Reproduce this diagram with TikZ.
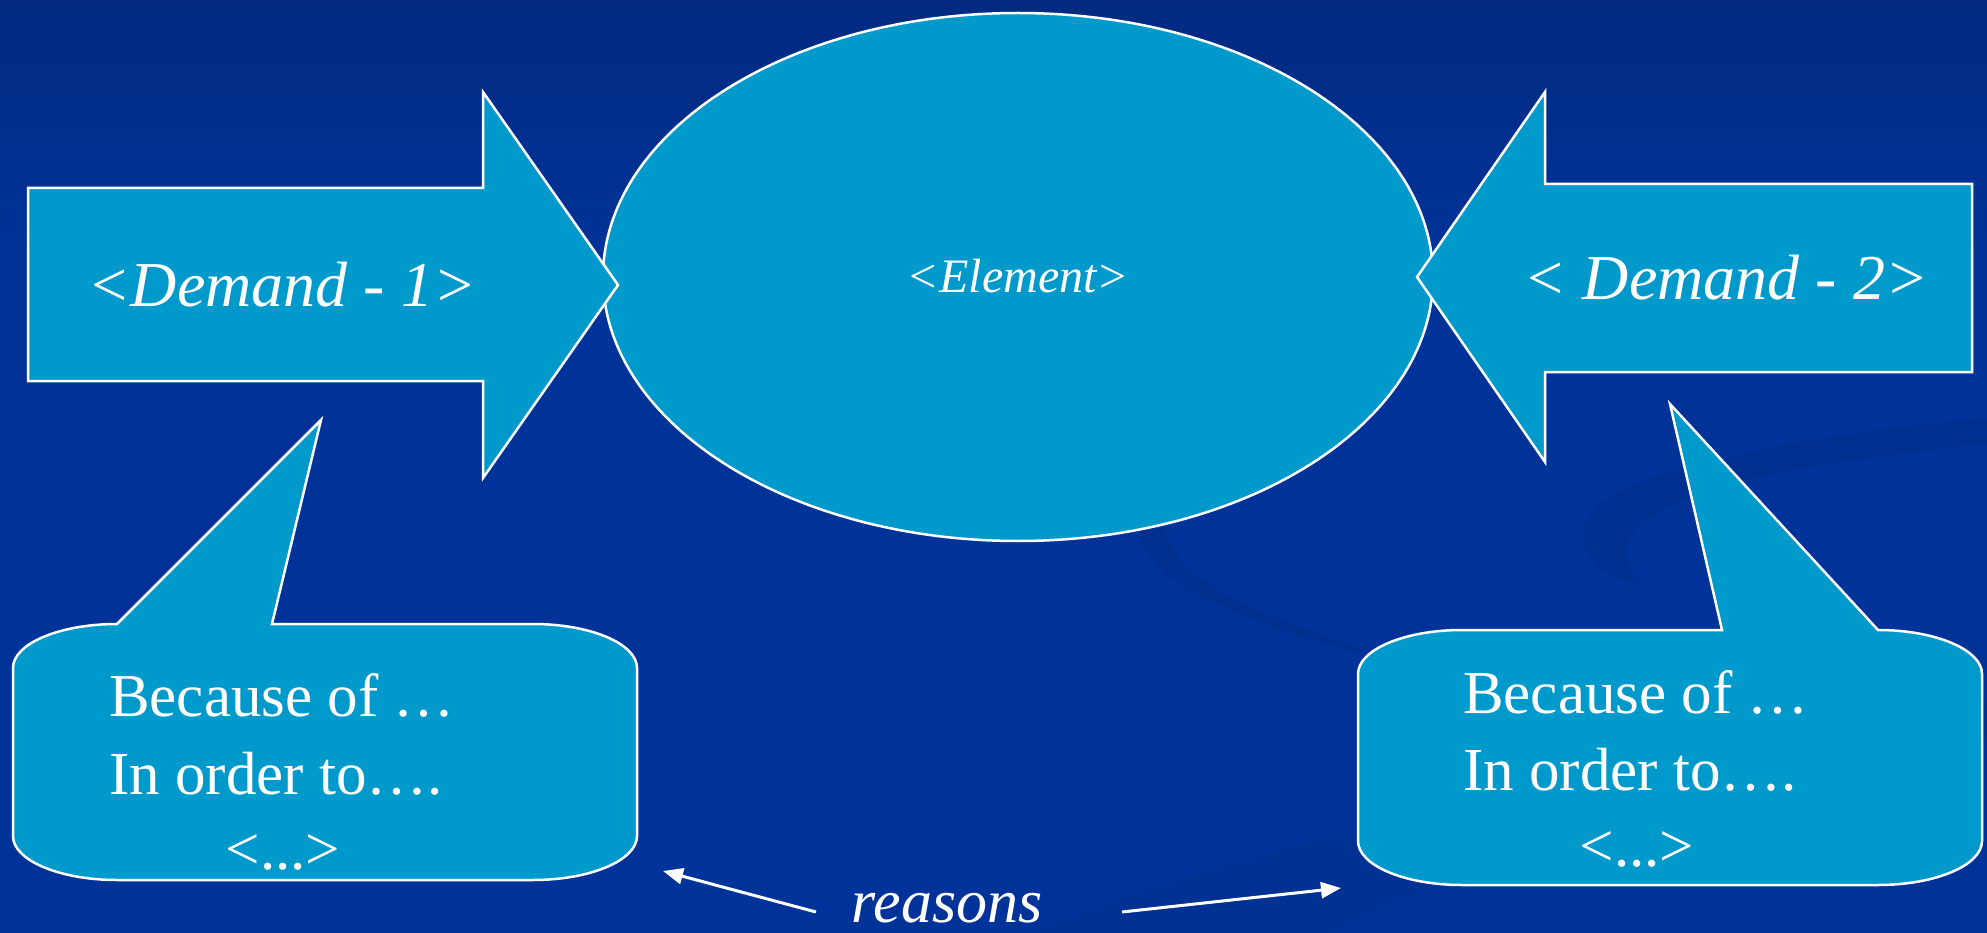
\documentclass[tikz,border=0pt]{standalone}
\usepackage{fontspec}
\setmainfont{Liberation Serif}
\usetikzlibrary{arrows.meta}
\definecolor{bgblue}{HTML}{003399}
\definecolor{bgtop}{HTML}{012A80}
\definecolor{swoosh}{HTML}{00308F}
\definecolor{shapefill}{HTML}{0099CC}

\begin{document}
\begin{tikzpicture}[x=1pt,y=-1pt,
  shapebox/.style={fill=shapefill, draw=white, line width=2.5pt, line join=miter, miter limit=20},
  demandtext/.style={text=white, inner sep=0pt, anchor=base, font=\fontsize{64pt}{70pt}\selectfont\itshape},
  elementtext/.style={text=white, inner sep=0pt, anchor=base, font=\fontsize{48pt}{54pt}\selectfont\itshape},
  reasontext/.style={text=white, inner sep=0pt, anchor=base west, font=\fontsize{61pt}{67pt}\selectfont},
  dotstext/.style={text=white, inner sep=0pt, anchor=base, font=\fontsize{61pt}{67pt}\selectfont},
  reasonslabel/.style={text=white, inner sep=0pt, anchor=base, font=\fontsize{62pt}{68pt}\selectfont\itshape},
  pointer/.style={draw=white, line width=3pt, -{Triangle[length=20pt,width=16pt]}},
]
\useasboundingbox (0,0) rectangle (1987,933);

% background
\fill[bgblue] (0,0) rectangle (1987,933);
\shade[top color=bgtop, bottom color=bgblue] (0,0) rectangle (1987,260);

% faint background swooshes
\fill[swoosh] (1987,418) .. controls (1750,440) and (1590,480) .. (1583,530)
  .. controls (1578,560) and (1610,578) .. (1645,588)
  .. controls (1628,570) and (1620,552) .. (1632,535)
  .. controls (1660,490) and (1800,462) .. (1987,444) -- cycle;
\fill[swoosh] (1135,520) .. controls (1140,590) and (1260,630) .. (1420,668)
  .. controls (1280,622) and (1180,590) .. (1165,530) -- cycle;
\fill[swoosh, opacity=0.6] (1030,933) .. controls (1200,860) and (1600,760) .. (1987,700)
  -- (1987,740) .. controls (1650,800) and (1450,870) .. (1330,933) -- cycle;

% central element
\draw[shapebox] (1018,277) ellipse [x radius=415, y radius=264];
\node[elementtext] (element) at (1018,293) {<Element>};

% demand arrows
\draw[shapebox] (28,188) -- (483,188) -- (483,92) -- (618,285) -- (483,478)
  -- (483,381) -- (28,381) -- cycle;
\node[demandtext] (demand1) at (282,307) {<Demand - 1>};

\draw[shapebox] (1972,184) -- (1545,184) -- (1545,92) -- (1417,277) -- (1545,462)
  -- (1545,372) -- (1972,372) -- cycle;
\node[demandtext] (demand2) at (1726,300) {< Demand - 2>};

% left callout
\draw[shapebox] (117,624) -- (321,420) -- (272,624) -- (533,624)
  .. controls (590.4,624) and (637,643.7) .. (637,668) -- (637,836)
  .. controls (637,860.3) and (590.4,880) .. (533,880) -- (117,880)
  .. controls (59.6,880) and (13,860.3) .. (13,836) -- (13,668)
  .. controls (13,643.7) and (59.6,624) .. (117,624) -- cycle;
\node[reasontext] (because1) at (109,716) {Because of …};
\node[reasontext] (inorder1) at (109,794) {In order to….};
\node[dotstext] (dots1) at (283,869) {<...>};

% right callout
\draw[shapebox] (1722,630) -- (1670,404) -- (1878,630)
  .. controls (1935.4,630) and (1982,649.7) .. (1982,674) -- (1982,841)
  .. controls (1982,865.3) and (1935.4,885) .. (1878,885) -- (1462,885)
  .. controls (1404.6,885) and (1358,865.3) .. (1358,841) -- (1358,674)
  .. controls (1358,649.7) and (1404.6,630) .. (1462,630) -- cycle;
\node[reasontext] (because2) at (1463,713) {Because of …};
\node[reasontext] (inorder2) at (1463,790) {In order to….};
\node[dotstext] (dots2) at (1637,866) {<...>};

% reasons label and its two pointers
\node[reasonslabel] (reasons) at (947,922) {reasons};
\coordinate (leftfrom) at (816,912);
\coordinate (leftto) at (663,871);
\coordinate (rightfrom) at (1122,912);
\coordinate (rightto) at (1341,888);
\draw[pointer] (leftfrom) -- (leftto);
\draw[pointer] (rightfrom) -- (rightto);
\end{tikzpicture}
\end{document}
